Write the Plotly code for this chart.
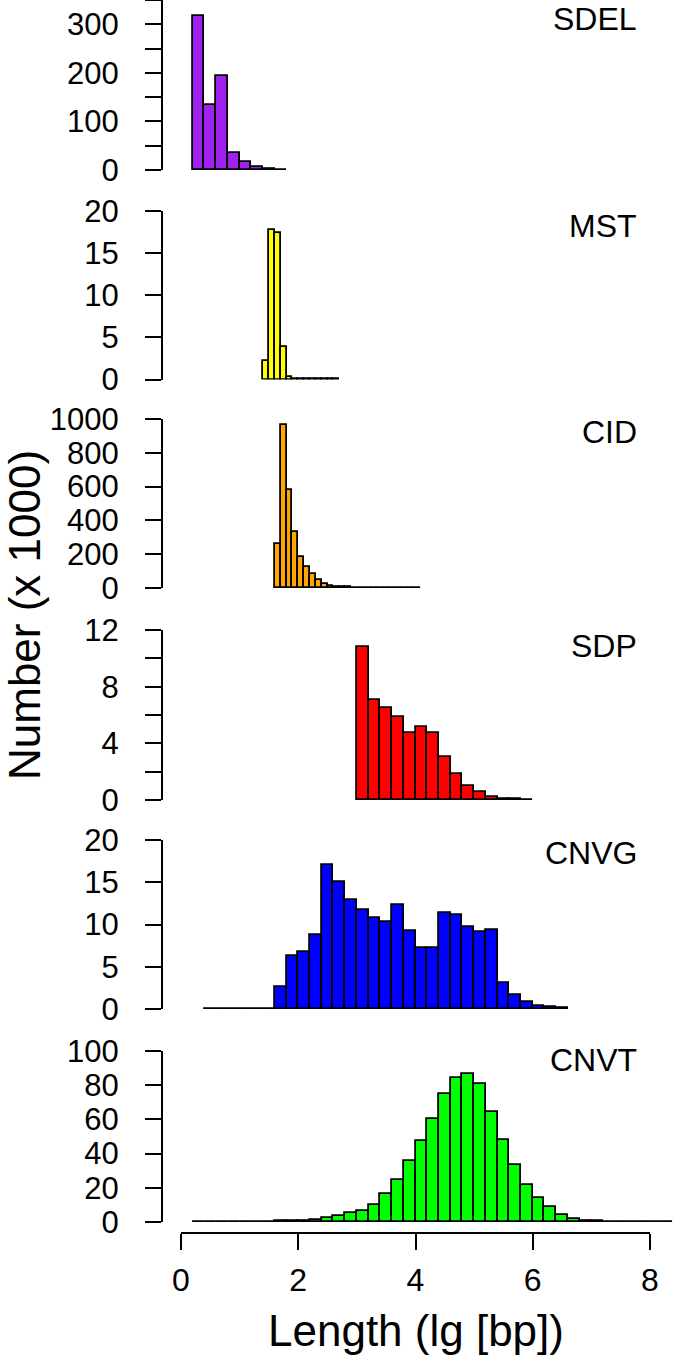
import numpy as np
import plotly.graph_objects as go

W, H = 675, 1356

# ---------------- data (counts in thousands) ----------------
panel_names = ["SDEL", "MST", "CID", "SDP", "CNVG", "CNVT"]
panel_colors = ["#A020F0", "#FFFF00", "#FFA500", "#FF0000", "#0000FF", "#00FF00"]

sdel_start, sdel_width = 0.2, 0.2
sdel_counts = [317, 134, 193, 36, 16, 7, 2, 1]

mst_start, mst_width = 1.4, 0.1
mst_counts = [2.2, 17.8, 17.4, 3.9, 0.3, 0.1, 0.05, 0.03, 0.02, 0.02, 0.01, 0.01, 0.01]

cid_start, cid_width = 1.6, 0.1
cid_counts = [260, 966, 578, 329, 181, 126, 85, 47, 24, 12,
              6, 4, 3, 2, 1.5, 1, 1, 0.8, 0.6, 0.5,
              0.4, 0.3, 0.2, 0.2, 0.1]

sdp_start, sdp_width = 3.0, 0.2
sdp_counts = [10.78, 7.04, 6.49, 5.86, 4.75, 5.13, 4.73, 3.06, 1.81, 0.96,
              0.56, 0.24, 0.09, 0.04, 0.02]

cnvg_start, cnvg_width = 0.4, 0.2
cnvg_counts = [0.02, 0.02, 0.03, 0.03, 0.04, 0.05,
               2.63, 6.27, 6.7, 8.75, 17.0, 14.98, 12.86, 11.76, 10.78, 10.31,
               12.35, 9.18, 7.18, 7.18, 11.33, 11.18, 9.73, 9.1, 9.37, 3.1,
               1.69, 0.82, 0.35, 0.2, 0.08]

cnvt_start, cnvt_width = 0.2, 0.2
cnvt_counts = [0.05, 0.05, 0.1, 0.1, 0.15, 0.2, 0.25, 0.3, 0.4, 0.6,
               1.2, 2.6, 3.7, 5.5, 6.3, 10.0, 16.1, 24.6, 35.4, 47.4,
               60.4, 74.8, 84.3, 86.8, 80.9, 64.4, 48.2, 33.5, 21.7, 13.8,
               8.5, 3.9, 2.0, 0.6,
               0.3, 0.15, 0.1, 0.05, 0.03, 0.02, 0.02]

# y-axis ticks / labels per panel
y_tickvals = [
    [0, 50, 100, 150, 200, 250, 300, 350],
    [0, 5, 10, 15, 20],
    [0, 200, 400, 600, 800, 1000],
    [0, 2, 4, 6, 8, 10, 12],
    [0, 5, 10, 15, 20],
    [0, 20, 40, 60, 80, 100],
]
y_ticktext = [
    ["0", "", "100", "", "200", "", "300", ""],
    ["0", "5", "10", "15", "20"],
    ["0", "200", "400", "600", "800", "1000"],
    ["0", "", "4", "", "8", "", "12"],
    ["0", "5", "10", "15", "20"],
    ["0", "20", "40", "60", "80", "100"],
]
x_tickvals = [0, 2, 4, 6, 8]
x_ticktext = ["0", "2", "4", "6", "8"]

x_title = "Length (lg [bp])"
y_title = "Number (x 1000)"

# ---------------- layout geometry (pixels) ----------------
# (baseline pixel, top-tick pixel) for each panel
panel_px = [(170, 0), (379.5, 211), (588, 419), (800, 630), (1009, 840), (1222, 1051)]
label_px = [19, 226, 432, 646, 853, 1060]
yaxis_x_px = 162
x0_px, x8_px = 181, 650
xaxis_y_px = 1233

px_per_unit = (x8_px - x0_px) / 8.0
x_range = [-x0_px / px_per_unit, (W - x0_px) / px_per_unit]

def py(px):
    return (H - px) / H

series = [
    (sdel_start, sdel_width, sdel_counts),
    (mst_start, mst_width, mst_counts),
    (cid_start, cid_width, cid_counts),
    (sdp_start, sdp_width, sdp_counts),
    (cnvg_start, cnvg_width, cnvg_counts),
    (cnvt_start, cnvt_width, cnvt_counts),
]

FONT = "Liberation Sans, Arial, Helvetica, sans-serif"

fig = go.Figure()
layout = dict(
    width=W, height=H,
    margin=dict(l=0, r=0, t=0, b=0, autoexpand=False),
    paper_bgcolor="white", plot_bgcolor="white",
    showlegend=False, bargap=0,
    font=dict(family=FONT, color="black"),
)

for i, (start, width, counts) in enumerate(series):
    counts = np.asarray(counts, dtype=float)
    centers = start + (np.arange(len(counts)) + 0.5) * width
    yname = "y" if i == 0 else f"y{i+1}"
    fig.add_trace(go.Bar(
        x=centers, y=counts, width=width,
        marker=dict(color=panel_colors[i], line=dict(color="black", width=1.8)),
        xaxis="x", yaxis=yname, hoverinfo="x+y",
    ))
    bottom, top = panel_px[i]
    yv = y_tickvals[i]
    layout["yaxis" if i == 0 else f"yaxis{i+1}"] = dict(
        domain=[py(bottom), min(1.0, py(top))],
        range=[0, yv[-1]],
        anchor="free", position=yaxis_x_px / W,
        showline=True, linecolor="black", linewidth=2,
        ticks="outside", ticklen=16, tickwidth=2, tickcolor="black",
        tickvals=yv, ticktext=y_ticktext[i],
        tickfont=dict(size=31, family=FONT, color="black"),
        ticklabelstandoff=20, automargin=False,
        showgrid=False, zeroline=False, fixedrange=True,
    )

layout["xaxis"] = dict(
    domain=[0, 1], range=x_range,
    anchor="free", position=py(xaxis_y_px),
    showline=False,
    ticks="outside", ticklen=16, tickwidth=2, tickcolor="black",
    tickvals=x_tickvals, ticktext=x_ticktext,
    tickfont=dict(size=32, family=FONT, color="black"),
    ticklabelstandoff=3, automargin=False,
    showgrid=False, zeroline=False, fixedrange=True,
)

shapes = [dict(type="line", xref="x", yref="paper",
               x0=x_tickvals[0], x1=x_tickvals[-1],
               y0=py(xaxis_y_px), y1=py(xaxis_y_px),
               line=dict(color="black", width=2))]

annotations = []
for i, name in enumerate(panel_names):
    annotations.append(dict(
        text=name, xref="paper", yref="paper",
        x=639 / W, y=py(label_px[i]), xanchor="right", yanchor="middle",
        showarrow=False, font=dict(size=32, family=FONT, color="black"),
    ))
annotations.append(dict(
    text=x_title, xref="x", yref="paper", x=4, y=py(1330),
    xanchor="center", yanchor="middle", showarrow=False,
    font=dict(size=44, family=FONT, color="black"),
))
annotations.append(dict(
    text=y_title, xref="paper", yref="paper", x=24 / W, y=py(615),
    xanchor="center", yanchor="middle", textangle=-90, showarrow=False,
    font=dict(size=44, family=FONT, color="black"),
))

layout["shapes"] = shapes
layout["annotations"] = annotations
fig.update_layout(**layout)
fig.write_html(
    "out.html",
    config={"displayModeBar": False, "staticPlot": False},
    post_script="document.body.style.margin='0';document.body.style.overflow='hidden';",
)
